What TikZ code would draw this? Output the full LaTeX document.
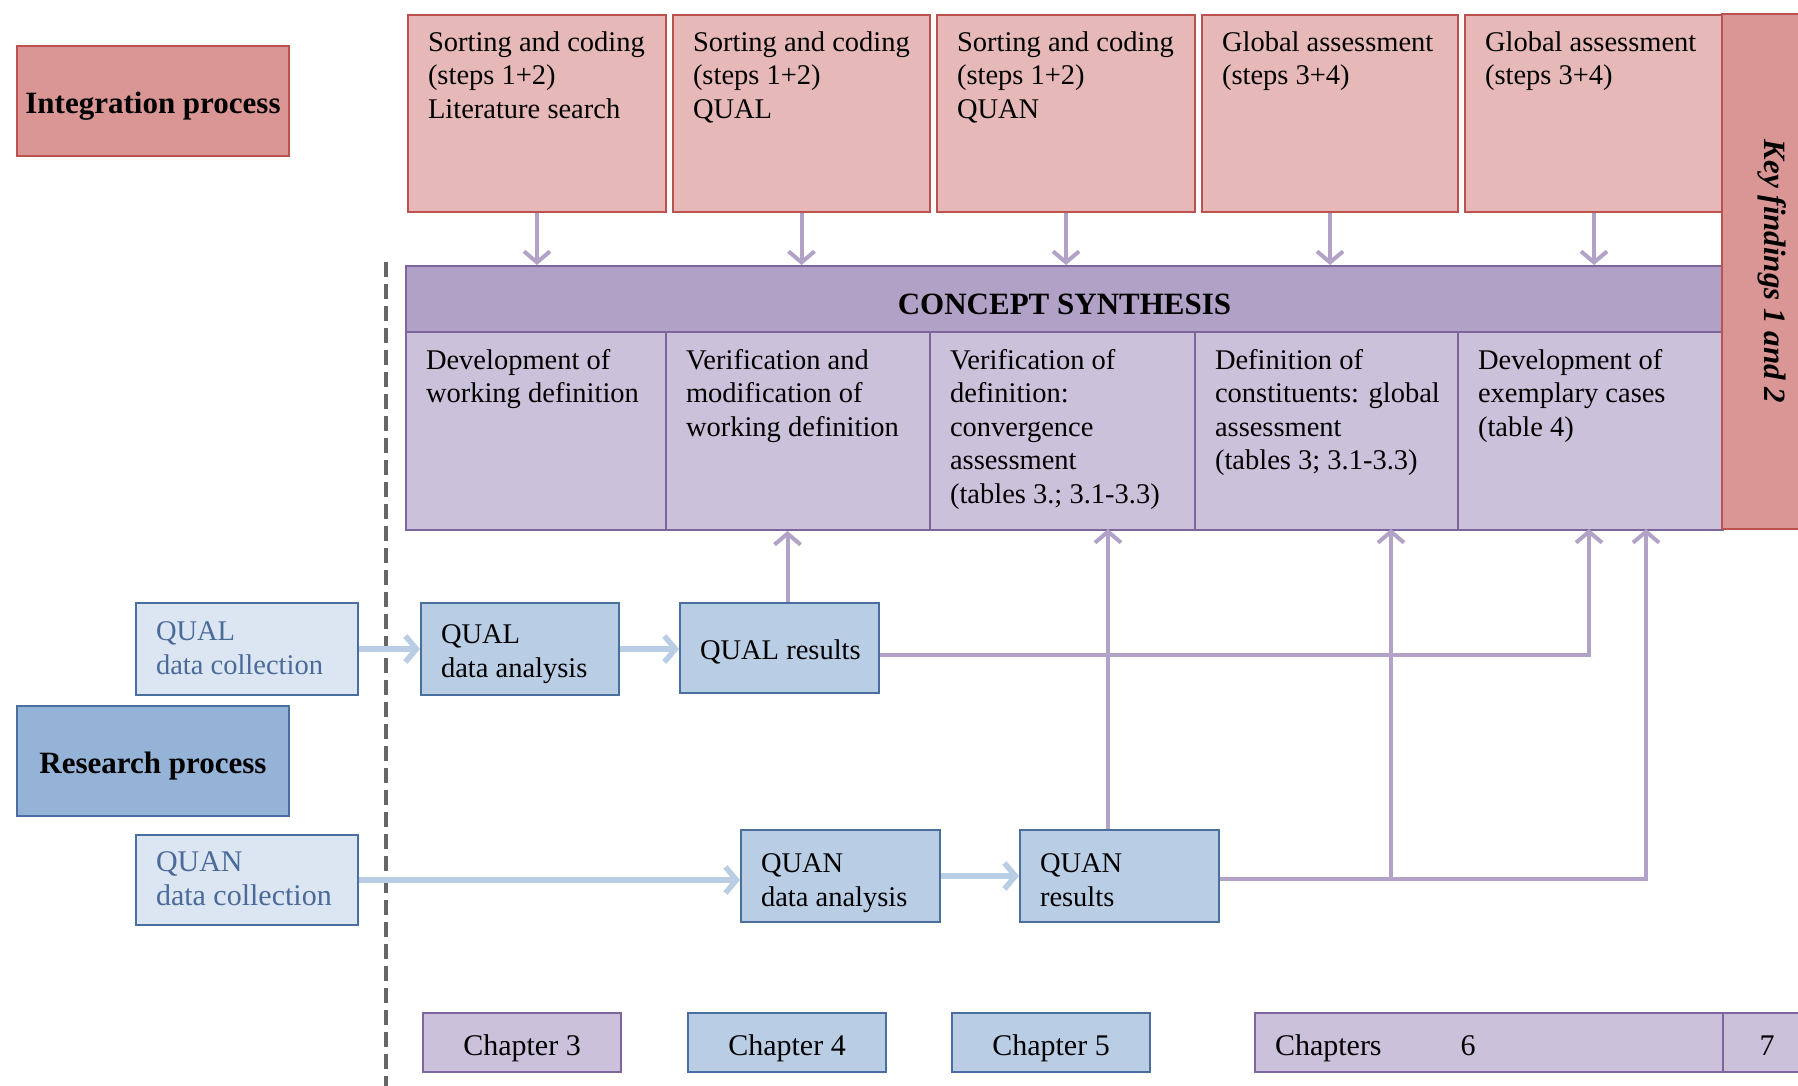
\documentclass[tikz,border=0pt]{standalone}
\usepackage{fontspec}
\setmainfont{Liberation Serif}
\usetikzlibrary{arrows.meta}

\definecolor{redfill}{HTML}{D99694}
\definecolor{redpale}{HTML}{E6B9B8}
\definecolor{redline}{HTML}{BA5350}
\definecolor{lilachead}{HTML}{B2A1C7}
\definecolor{lilacpale}{HTML}{CCC1DA}
\definecolor{lilacline}{HTML}{7E659E}
\definecolor{bluedark}{HTML}{95B3D7}
\definecolor{bluemid}{HTML}{B9CDE5}
\definecolor{bluepale}{HTML}{DCE6F2}
\definecolor{blueline}{HTML}{4A6E9E}
\definecolor{bluetext}{HTML}{4A6A9A}
\definecolor{lilacarrow}{HTML}{B3A2C7}
\definecolor{bluearrow}{HTML}{B9CDE5}

\newcommand{\boxtext}[4][13pt]{\parbox[c][#3][t]{#2}{\vspace*{#1}\raggedright\leftskip=20pt\strut #4}}

\begin{document}
\begin{tikzpicture}[x=1pt, y=-1pt,
    every node/.style={anchor=north west, inner sep=0pt, line width=2pt,
        font=\fontsize{28.5}{33.5}\selectfont},
    boldfont/.style={font=\fontsize{31}{36}\selectfont\bfseries, text height=25.5pt, text depth=0pt},
    chapfont/.style={font=\fontsize{30}{34}\selectfont},
    redcell/.style={draw=redline, fill=redpale},
    lilaccell/.style={draw=lilacline, fill=lilacpale},
    bluecell/.style={draw=blueline, fill=bluemid},
    chapter/.style={chapfont, minimum width=198pt, minimum height=59pt, text height=25.5pt, text depth=0pt},
    parrow/.style={draw=lilacarrow, line width=4pt, -{Straight Barb[length=11pt,width=26pt]}},
    barrow/.style={draw=bluearrow, line width=5.5pt, -{Straight Barb[length=11pt,width=26pt]}},
    divider/.style={draw=black!60, line width=3.5pt, dash pattern=on 15pt off 7pt}]

    \useasboundingbox (0,0) rectangle (1798,1086);
    \clip (0,0) rectangle (1798,1086);

    \node[redcell] (T1) at (407,14) {\boxtext{258pt}{197pt}{Sorting and coding\\(steps 1+2)\\Literature search}};
    \node[redcell] (T2) at (672,14) {\boxtext{257pt}{197pt}{Sorting and coding\\(steps 1+2)\\QUAL}};
    \node[redcell] (T3) at (936,14) {\boxtext{258pt}{197pt}{Sorting and coding\\(steps 1+2)\\QUAN}};
    \node[redcell] (T4) at (1201,14) {\boxtext{256pt}{197pt}{Global assessment\\(steps 3+4)}};
    \node[redcell] (T5) at (1464,14) {\boxtext{258pt}{197pt}{Global assessment\\(steps 3+4)}};

    \node[draw=lilacline, fill=lilachead, boldfont, text height=30pt, minimum width=1317pt, minimum height=66pt] (CS) at (405,265) {CONCEPT SYNTHESIS};
    \node[lilaccell] (S1) at (405,331) {\boxtext[14pt]{260pt}{198pt}{Development of\\working definition}};
    \node[lilaccell] (S2) at (665,331) {\boxtext[14pt]{264pt}{198pt}{Verification and\\modification of\\working definition}};
    \node[lilaccell] (S3) at (929,331) {\boxtext[14pt]{265pt}{198pt}{Verification of\\definition:\\convergence\\assessment\\(tables 3.; 3.1-3.3)}};
    \node[lilaccell] (S4) at (1194,331) {\boxtext[14pt]{263pt}{198pt}{Definition of\\constituents: global\\assessment\\(tables 3; 3.1-3.3)}};
    \node[lilaccell] (S5) at (1457,331) {\boxtext[14pt]{265pt}{198pt}{Development of\\exemplary cases\\(table 4)}};

    \node[draw=redline, fill=redfill, font=\fontsize{31}{36}\selectfont\bfseries, anchor=center, rotate=-90, minimum width=515pt, minimum height=100pt] (KF) at (1772,271.5) {\textit{Key findings 1 and 2}};

    \node[draw=redline, fill=redfill, boldfont, minimum width=272pt, minimum height=110pt] (IP) at (16,45) {Integration process};
    \node[draw=blueline, fill=bluedark, boldfont, minimum width=272pt, minimum height=110pt] (RP) at (16,705) {Research process};

    \node[draw=blueline, fill=bluepale, text=bluetext] (QLC) at (135,602) {\boxtext[14.5pt]{222pt}{92pt}{QUAL\\data collection}};
    \node[bluecell] (QLA) at (420,602) {\boxtext[17.5pt]{198pt}{92pt}{QUAL\\data analysis}};
    \node[bluecell] (QLR) at (679,602) {\boxtext[33.5pt]{199pt}{90pt}{QUAL results}};
    \node[draw=blueline, fill=bluepale, text=bluetext, font=\fontsize{30}{34}\selectfont] (QNC) at (135,834) {\boxtext[12.5pt]{222pt}{90pt}{QUAN\\data collection}};
    \node[bluecell] (QNA) at (740,829) {\boxtext[19.5pt]{199pt}{92pt}{QUAN\\data analysis}};
    \node[bluecell] (QNR) at (1019,829) {\boxtext[19.5pt]{199pt}{92pt}{QUAN\\results}};

    \node[chapter, draw=lilacline, fill=lilacpale] (CH3) at (422,1012) {Chapter 3};
    \node[chapter, bluecell] (CH4) at (687,1012) {Chapter 4};
    \node[chapter, bluecell] (CH5) at (951,1012) {Chapter 5};
    \node[chapfont, draw=lilacline, fill=lilacpale] (CH6) at (1254,1012) {\boxtext[19pt]{468pt}{59pt}{Chapters\hspace{79pt}6}};
    \node[chapter, draw=lilacline, fill=lilacpale, minimum width=88pt] (CH7) at (1722,1012) {7};

    \coordinate (DT) at (386,262);
    \coordinate (DB) at (386,1086);
    \coordinate (in3) at (1108,529);
    \coordinate (in4) at (1391,529);
    \coordinate (in5a) at (1589,529);
    \coordinate (in5b) at (1646,529);

    \draw[divider] (DT) -- (DB);

    \foreach \t in {T1,T2,T3,T4,T5}
        \draw[parrow] (\t.south) -- (\t.south |- CS.north);

    \draw[barrow] (QLC.east) -- (QLC.east -| QLA.west);
    \draw[barrow] (QLA.east) -- (QLA.east -| QLR.west);
    \draw[barrow] (QNC.east) -- (QNC.east -| QNA.west);
    \draw[barrow] (QNA.east) -- (QNA.east -| QNR.west);

    \draw[parrow] ([xshift=8pt]QLR.north) -- ([xshift=8pt]QLR.north |- S2.south);
    \draw[parrow] ([yshift=-7pt]QLR.east) -| (in5a);
    \draw[parrow] (QNR.north -| in3) -- (in3);
    \draw[parrow] ([yshift=-3pt]QNR.east) -| (in5b);
    \draw[parrow] ([yshift=-3pt]QNR.east -| in4) -- (in4);
\end{tikzpicture}
\end{document}
